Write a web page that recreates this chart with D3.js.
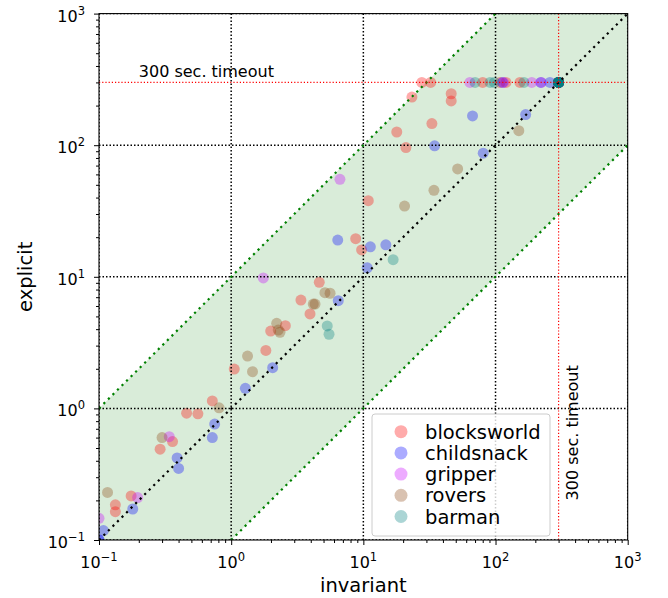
<!DOCTYPE html>
<html><head><meta charset="utf-8">
<script src="https://cdn.jsdelivr.net/npm/d3@7"></script>
<style>body{margin:0;background:#fff} text{font-family:"DejaVu Sans",sans-serif;fill:#000}</style>
</head><body><svg id="c" width="668" height="598"></svg>
<script>
const seriesNames = ["blocksworld","childsnack","gripper","rovers","barman"];
const seriesColors = ["#ff0000","#0000ff","#c800ff","#8b4513","#008080"];

const blocksworldX = [0.72,0.46,0.56,0.36,0.29,0.175,0.133,0.133,1.055,1.83,1.99,2.57,3.37,3.95,4.64,8.75,9.7,10.9,17.9,21,23.3,33,46.2,46.2,27.7,32.3,80,108,120,153,300,300];
const blocksworldY = [1.14,0.92,0.91,0.56,0.49,0.216,0.185,0.164,1.99,2.76,3.87,4.25,6.66,5.22,9.08,19.5,16.0,37.9,126,96,232,146,246,217,300,300,300,300,300,300,300,300];
const childsnackX = [0.75,0.72,0.39,0.40,0.18,0.108,0.1,0.1,1.28,2.06,6.46,6.4,11.3,14.8,10.7,34.6,67,80.7,169,113,220,258,300,300,300];
const childsnackY = [0.76,0.60,0.42,0.35,0.172,0.118,0.1,0.1,1.42,2.04,6.58,19.0,16.9,17.5,11.7,99,167,87,171,300,300,300,300,300,300];
const gripperX = [0.34,0.196,0.1,1.75,6.65,64,115,188,222,300];
const gripperY = [0.61,0.21,0.146,9.8,55,300,300,300,300,300];
const roversX = [0.81,0.30,0.116,1.33,1.45,2.21,2.27,2.34,4.18,4.31,5.12,5.6,20.5,34.2,51.7,150,300];
const roversY = [1.01,0.60,0.23,2.5,1.9,4.43,3.94,3.79,6.2,6.2,7.57,7.5,34.5,45.4,66,129,300];
const barmanX = [5.33,5.5,16.8,70,91,98,164,300,300,300,300,300,300,300,300,300,300];
const barmanY = [4.23,3.66,13.5,300,300,300,300,300,300,300,300,300,300,300,300,300,300];

const majorTicks = [0.1,1,10,100,1000];
const tickExponents = ["\u22121","0","1","2","3"];
const timeout = 300;
const timeoutLabel = "300 sec. timeout";
const xLabel = "invariant", yLabel = "explicit";

const seriesX = [blocksworldX, childsnackX, gripperX, roversX, barmanX];
const seriesY = [blocksworldY, childsnackY, gripperY, roversY, barmanY];

const L = 99, R = 627.7, T = 13.6, B = 540;
const svg = d3.select("#c");
const x = d3.scaleLog().domain([0.1,1000]).range([L,R]);
const y = d3.scaleLog().domain([0.1,1000]).range([B,T]);

svg.append("defs").append("clipPath").attr("id","clip")
  .append("rect").attr("x",L).attr("y",T).attr("width",R-L).attr("height",B-T);
const plot = svg.append("g").attr("clip-path","url(#clip)");

// green band between y=x/10 and y=10x
const band = [[0.1,0.1],[0.1,1],[100,1000],[1000,1000],[1000,100],[1,0.1]];
plot.append("path").attr("d", d3.line().x(d=>x(d[0])).y(d=>y(d[1]))(band)+"Z")
  .attr("fill","#008000").attr("fill-opacity",0.15);

// scatter
seriesNames.forEach((name,i)=>{
  const pts = seriesX[i].map((v,j)=>[v, seriesY[i][j]]);
  plot.append("g").selectAll("circle").data(pts).join("circle")
    .attr("cx",d=>x(d[0])).attr("cy",d=>y(d[1])).attr("r",5.5)
    .attr("fill",seriesColors[i]).attr("fill-opacity",0.33);
});

// grid
const grid = plot.append("g");
majorTicks.forEach(t=>{
  grid.append("line").attr("x1",x(t)).attr("x2",x(t)).attr("y1",T).attr("y2",B);
  grid.append("line").attr("x1",L).attr("x2",R).attr("y1",y(t)).attr("y2",y(t));
});
grid.selectAll("line").attr("stroke","#000").attr("stroke-width",1.5).attr("stroke-dasharray","1.5,2");

// diagonal lines
const lines = [
  {pts:[[0.1,0.1],[1000,1000]], c:"#000"},
  {pts:[[0.1,1],[100,1000]], c:"#008000"},
  {pts:[[1,0.1],[1000,100]], c:"#008000"}
];
lines.forEach(l=>{
  plot.append("line").attr("x1",x(l.pts[0][0])).attr("y1",y(l.pts[0][1]))
    .attr("x2",x(l.pts[1][0])).attr("y2",y(l.pts[1][1]))
    .attr("stroke",l.c).attr("stroke-width",2.2).attr("stroke-dasharray","2.2,4.2");
});

// timeout lines
plot.append("line").attr("x1",L).attr("x2",R).attr("y1",y(timeout)).attr("y2",y(timeout))
  .attr("stroke","#ff0000").attr("stroke-width",1.2).attr("stroke-dasharray","1.2,2");
plot.append("line").attr("x1",x(timeout)).attr("x2",x(timeout)).attr("y1",T).attr("y2",B)
  .attr("stroke","#ff0000").attr("stroke-width",1.2).attr("stroke-dasharray","1.2,2");

svg.append("text").attr("x",x(0.2)).attr("y",y(330)).attr("font-size",16).text(timeoutLabel);
svg.append("text").attr("transform",`translate(${x(420)},${y(0.2)}) rotate(-90)`)
  .attr("font-size",16).text(timeoutLabel);

// axes
const minorTicks = [];
[0.1,1,10,100].forEach(d=>{for(let k=2;k<=9;k++) minorTicks.push(d*k);});
const xAxisG = svg.append("g").attr("transform",`translate(0,${B})`);
xAxisG.call(d3.axisBottom(x).tickValues(minorTicks).tickSize(3).tickFormat(()=>"")).select(".domain").remove();
const xMaj = svg.append("g").attr("transform",`translate(0,${B})`);
xMaj.call(d3.axisBottom(x).tickValues(majorTicks).tickSize(5).tickFormat(()=>"")).select(".domain").remove();
const yAxisG = svg.append("g").attr("transform",`translate(${L},0)`);
yAxisG.call(d3.axisLeft(y).tickValues(minorTicks).tickSize(3).tickFormat(()=>"")).select(".domain").remove();
const yMaj = svg.append("g").attr("transform",`translate(${L},0)`);
yMaj.call(d3.axisLeft(y).tickValues(majorTicks).tickSize(5).tickFormat(()=>"")).select(".domain").remove();
svg.selectAll(".tick line").attr("stroke","#000").attr("stroke-width",1);
svg.selectAll(".tick text").remove();

// tick labels
majorTicks.forEach((t,i)=>{
  const tx = svg.append("text").attr("x",x(t)).attr("y",B+28).attr("text-anchor","middle").attr("font-size",16);
  tx.append("tspan").text("10");
  tx.append("tspan").attr("dy",-7).attr("font-size",11.5).text(tickExponents[i]);
  const ty = svg.append("text").attr("x",L-14).attr("y",y(t)+8).attr("text-anchor","end").attr("font-size",16);
  ty.append("tspan").text("10");
  ty.append("tspan").attr("dy",-7).attr("font-size",11.5).text(tickExponents[i]);
});

// frame
svg.append("rect").attr("x",L).attr("y",T).attr("width",R-L).attr("height",B-T)
  .attr("fill","none").attr("stroke","#000").attr("stroke-width",1.1);

// axis labels
svg.append("text").attr("x",(L+R)/2).attr("y",592).attr("text-anchor","middle").attr("font-size",19.5).text(xLabel);
svg.append("text").attr("transform",`translate(32,${(T+B)/2}) rotate(-90)`).attr("text-anchor","middle").attr("font-size",19.5).text(yLabel);

// legend
const lg = svg.append("g");
lg.append("rect").attr("x",372).attr("y",414).attr("width",178).attr("height",122).attr("rx",3)
  .attr("fill","#fff").attr("fill-opacity",0.8).attr("stroke","#cccccc").attr("stroke-width",1);
seriesNames.forEach((name,i)=>{
  const cy = 431.7 + i*21.2;
  lg.append("circle").attr("cx",401).attr("cy",cy).attr("r",6.5).attr("fill",seriesColors[i]).attr("fill-opacity",0.33);
  lg.append("text").attr("x",425).attr("y",cy+7).attr("font-size",19.5).text(name);
});
</script></body></html>
